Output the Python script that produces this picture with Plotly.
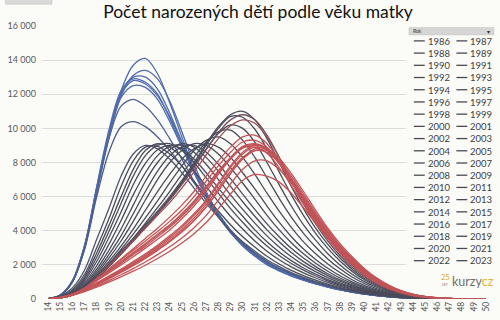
import plotly.graph_objects as go

ages = [14, 15, 16, 17, 18, 19, 20, 21, 22, 23, 24, 25, 26, 27, 28, 29, 30, 31, 32,
        33, 34, 35, 36, 37, 38, 39, 40, 41, 42, 43, 44, 45, 46, 47, 48, 49, 50]

years = [1986, 1987, 1988, 1989, 1990, 1991, 1992, 1993, 1994, 1995, 1996, 1997, 1998,
         1999, 2000, 2001, 2002, 2003, 2004, 2005, 2006, 2007, 2008, 2009, 2010, 2011,
         2012, 2013, 2014, 2015, 2016, 2017, 2018, 2019, 2020, 2021, 2022, 2023]

y1986 = [20, 220, 1050, 3100, 6500, 9700, 12000, 12800, 12600, 11900, 10700, 9200, 7600, 6200, 5000, 4000, 3200, 2600, 2100, 1700, 1400, 1150, 920, 730, 560, 420, 300, 210, 140, 85, 50, 25, 12, 6, 3, 2, 1]
y1987 = [20, 210, 1020, 3050, 6400, 9600, 12100, 13000, 13000, 12300, 10900, 9200, 7500, 6100, 4900, 3950, 3150, 2550, 2050, 1680, 1370, 1120, 900, 710, 550, 410, 295, 205, 135, 82, 48, 25, 12, 6, 3, 2, 1]
y1988 = [20, 200, 1000, 3000, 6300, 9600, 12200, 13700, 14100, 13200, 11500, 9500, 7600, 6100, 4900, 3900, 3100, 2500, 2000, 1650, 1350, 1100, 880, 700, 540, 400, 290, 200, 130, 80, 45, 25, 12, 6, 3, 2, 1]
y1989 = [20, 190, 980, 2950, 6200, 9400, 11900, 13100, 13400, 12900, 11600, 9800, 7900, 6300, 5000, 4000, 3150, 2550, 2050, 1670, 1360, 1100, 880, 700, 540, 400, 290, 200, 130, 80, 45, 25, 12, 6, 3, 2, 1]
y1990 = [25, 230, 1080, 3150, 6600, 9900, 12200, 12900, 12700, 12000, 10600, 9000, 7400, 6000, 4850, 3900, 3150, 2550, 2050, 1680, 1380, 1130, 900, 720, 550, 410, 300, 205, 135, 82, 48, 25, 12, 6, 3, 2, 1]
y1991 = [25, 230, 1060, 3100, 6500, 9700, 11800, 12500, 12400, 11700, 10400, 8900, 7400, 6100, 5000, 4050, 3300, 2700, 2200, 1800, 1480, 1200, 960, 760, 580, 430, 310, 215, 140, 85, 50, 26, 13, 6, 3, 2, 1]
y1992 = [25, 230, 1050, 3050, 6400, 9400, 11300, 11700, 11300, 10500, 9400, 8200, 6900, 5800, 4800, 3900, 3200, 2650, 2150, 1780, 1460, 1190, 950, 750, 570, 420, 305, 210, 138, 84, 48, 25, 12, 6, 3, 2, 1]
y1993 = [25, 230, 1000, 2900, 6000, 8600, 10100, 10400, 10100, 9500, 8700, 7800, 6800, 5800, 4900, 4000, 3300, 2700, 2200, 1800, 1480, 1200, 960, 760, 580, 430, 310, 215, 140, 85, 50, 26, 13, 6, 3, 2, 1]
y1994 = [20, 170, 650, 1700, 3500, 5300, 7200, 8500, 9000, 8800, 8200, 7400, 6500, 5600, 4800, 4000, 3350, 2800, 2300, 1900, 1550, 1270, 1020, 810, 620, 460, 335, 235, 155, 95, 55, 28, 14, 7, 3, 2, 1]
y1995 = [15, 140, 550, 1450, 3000, 4700, 6600, 8100, 8900, 8950, 8500, 7800, 6900, 6000, 5150, 4350, 3650, 3050, 2500, 2050, 1680, 1370, 1100, 870, 670, 500, 360, 250, 165, 100, 58, 30, 15, 7, 3, 2, 1]
y1996 = [15, 120, 480, 1300, 2700, 4300, 6000, 7600, 8700, 9100, 8900, 8300, 7500, 6600, 5700, 4850, 4100, 3400, 2800, 2300, 1880, 1530, 1230, 970, 740, 550, 400, 275, 180, 110, 62, 32, 16, 8, 4, 2, 1]
y1997 = [12, 110, 430, 1180, 2450, 3950, 5600, 7200, 8400, 9000, 9100, 8700, 8000, 7100, 6200, 5300, 4500, 3750, 3100, 2550, 2080, 1690, 1350, 1060, 810, 600, 435, 300, 195, 120, 68, 35, 17, 8, 4, 2, 1]
y1998 = [10, 100, 390, 1070, 2200, 3600, 5100, 6700, 7950, 8750, 9000, 8800, 8200, 7400, 6500, 5650, 4850, 4050, 3350, 2750, 2250, 1820, 1460, 1140, 870, 650, 470, 320, 210, 130, 72, 37, 18, 9, 4, 2, 1]
y1999 = [10, 90, 350, 960, 1950, 3200, 4600, 6100, 7400, 8400, 8950, 9000, 8600, 7900, 7000, 6100, 5250, 4450, 3700, 3050, 2480, 2000, 1600, 1250, 950, 710, 510, 350, 230, 140, 78, 40, 20, 9, 4, 2, 1]
y2000 = [8, 80, 310, 860, 1750, 2850, 4100, 5500, 6900, 8000, 8750, 9100, 8900, 8300, 7500, 6600, 5700, 4850, 4050, 3350, 2720, 2190, 1750, 1370, 1040, 770, 550, 380, 250, 150, 85, 43, 21, 10, 5, 2, 1]
y2001 = [8, 75, 290, 790, 1600, 2600, 3700, 5000, 6300, 7500, 8400, 8900, 9000, 8600, 7900, 7050, 6150, 5250, 4400, 3650, 2970, 2400, 1900, 1480, 1120, 830, 590, 405, 265, 160, 90, 46, 22, 10, 5, 2, 1]
y2002 = [8, 70, 270, 740, 1480, 2400, 3400, 4550, 5800, 7000, 8000, 8700, 9100, 9000, 8500, 7700, 6800, 5850, 4900, 4050, 3300, 2650, 2100, 1630, 1230, 910, 650, 440, 290, 175, 98, 50, 24, 11, 5, 2, 1]
y2003 = [7, 65, 250, 690, 1380, 2200, 3100, 4100, 5200, 6300, 7300, 8200, 8800, 9100, 8900, 8300, 7400, 6450, 5450, 4500, 3650, 2930, 2320, 1800, 1360, 1000, 710, 480, 315, 190, 105, 54, 26, 12, 5, 2, 1]
y2004 = [7, 62, 240, 650, 1300, 2050, 2900, 3800, 4750, 5750, 6800, 7800, 8700, 9300, 9500, 9100, 8300, 7300, 6200, 5150, 4200, 3350, 2650, 2050, 1550, 1130, 800, 540, 350, 210, 115, 58, 28, 13, 6, 3, 1]
y2005 = [7, 60, 230, 620, 1230, 1950, 2750, 3550, 4450, 5350, 6300, 7300, 8300, 9200, 9800, 9900, 9300, 8300, 7100, 5900, 4800, 3850, 3050, 2350, 1770, 1290, 910, 610, 395, 235, 130, 65, 31, 14, 6, 3, 1]
y2006 = [7, 60, 225, 600, 1180, 1870, 2620, 3380, 4200, 5000, 5850, 6800, 7800, 8800, 9700, 10200, 10000, 9200, 8000, 6700, 5450, 4350, 3450, 2650, 2000, 1450, 1020, 690, 445, 265, 145, 72, 34, 15, 7, 3, 1]
y2007 = [8, 65, 240, 630, 1230, 1950, 2700, 3450, 4250, 5050, 5900, 6850, 7900, 9000, 10000, 10700, 10650, 9950, 8800, 7450, 6100, 4900, 3850, 2970, 2230, 1620, 1130, 760, 490, 290, 160, 80, 37, 17, 7, 3, 1]
y2008 = [8, 70, 255, 660, 1280, 2020, 2800, 3550, 4350, 5150, 6000, 6950, 8000, 9100, 10100, 10800, 11000, 10500, 9400, 8000, 6600, 5300, 4150, 3200, 2400, 1750, 1220, 820, 530, 315, 175, 87, 40, 18, 8, 3, 1]
y2009 = [8, 70, 250, 650, 1260, 1980, 2750, 3480, 4250, 5000, 5800, 6700, 7700, 8750, 9750, 10500, 10800, 10500, 9600, 8300, 6900, 5600, 4400, 3400, 2550, 1860, 1300, 870, 560, 335, 185, 92, 42, 19, 8, 3, 1]
y2010 = [8, 70, 245, 640, 1230, 1930, 2680, 3400, 4150, 4900, 5650, 6500, 7450, 8450, 9400, 10150, 10500, 10300, 9500, 8300, 7000, 5750, 4550, 3550, 2680, 1960, 1380, 920, 590, 355, 195, 97, 45, 20, 9, 4, 2]
y2011 = [8, 75, 250, 620, 1150, 1750, 2350, 2950, 3550, 4150, 4800, 5500, 6300, 7200, 8100, 8900, 9500, 9600, 9100, 8100, 6900, 5750, 4600, 3600, 2750, 2050, 1450, 980, 630, 380, 210, 105, 50, 22, 10, 4, 2]
y2012 = [8, 80, 260, 630, 1150, 1720, 2300, 2850, 3400, 3950, 4550, 5200, 6000, 6900, 7800, 8600, 9200, 9300, 8900, 8000, 6900, 5750, 4650, 3650, 2800, 2100, 1500, 1020, 660, 400, 220, 110, 52, 23, 10, 4, 2]
y2013 = [8, 80, 260, 620, 1120, 1660, 2200, 2720, 3250, 3800, 4350, 5000, 5750, 6600, 7500, 8250, 8850, 8900, 8550, 7700, 6650, 5550, 4500, 3550, 2730, 2050, 1470, 1000, 650, 395, 220, 110, 52, 23, 10, 4, 2]
y2014 = [8, 85, 270, 630, 1120, 1650, 2170, 2680, 3200, 3750, 4300, 4950, 5700, 6550, 7500, 8300, 8950, 9100, 8800, 7950, 6900, 5800, 4700, 3700, 2850, 2150, 1550, 1050, 690, 420, 235, 118, 55, 25, 11, 5, 2]
y2015 = [9, 88, 275, 620, 1100, 1600, 2100, 2600, 3100, 3650, 4200, 4850, 5600, 6450, 7400, 8250, 8900, 9050, 8800, 8000, 6950, 5850, 4750, 3750, 2900, 2180, 1580, 1080, 710, 435, 245, 122, 57, 26, 11, 5, 2]
y2016 = [9, 90, 280, 610, 1060, 1530, 2000, 2480, 2980, 3500, 4050, 4700, 5450, 6300, 7300, 8200, 8850, 9050, 8850, 8050, 7000, 5900, 4800, 3800, 2950, 2220, 1600, 1100, 720, 440, 250, 125, 58, 26, 12, 5, 2]
y2017 = [10, 90, 280, 580, 950, 1350, 1750, 2200, 2650, 3150, 3700, 4300, 5000, 5800, 6800, 7800, 8600, 9000, 8800, 8000, 7000, 5900, 4800, 3800, 2950, 2250, 1600, 1100, 700, 420, 240, 130, 65, 32, 16, 8, 5]
y2018 = [10, 90, 280, 570, 920, 1300, 1700, 2130, 2580, 3070, 3600, 4200, 4900, 5700, 6700, 7700, 8500, 8900, 8750, 8000, 7050, 6000, 4900, 3900, 3030, 2300, 1650, 1140, 740, 450, 255, 135, 68, 33, 16, 8, 5]
y2019 = [10, 85, 270, 550, 890, 1260, 1650, 2060, 2500, 2980, 3500, 4080, 4750, 5550, 6500, 7500, 8300, 8700, 8600, 7950, 7050, 6000, 4950, 3950, 3070, 2330, 1680, 1160, 760, 460, 260, 140, 70, 34, 17, 8, 5]
y2020 = [10, 80, 260, 530, 860, 1220, 1600, 2000, 2430, 2900, 3400, 3970, 4620, 5400, 6350, 7350, 8200, 8700, 8700, 8100, 7200, 6150, 5050, 4050, 3150, 2400, 1730, 1200, 790, 480, 270, 145, 72, 35, 17, 8, 5]
y2021 = [9, 78, 250, 510, 830, 1180, 1550, 1950, 2380, 2850, 3350, 3920, 4580, 5380, 6350, 7350, 8250, 8800, 8800, 8250, 7350, 6300, 5200, 4150, 3250, 2480, 1790, 1240, 820, 500, 285, 150, 75, 36, 18, 8, 5]
y2022 = [8, 72, 230, 470, 760, 1080, 1420, 1780, 2170, 2600, 3060, 3580, 4180, 4900, 5800, 6750, 7600, 8100, 8100, 7600, 6800, 5850, 4850, 3900, 3050, 2330, 1690, 1170, 780, 475, 270, 142, 70, 34, 17, 8, 5]
y2023 = [7, 65, 210, 430, 700, 990, 1300, 1630, 1980, 2370, 2800, 3280, 3830, 4480, 5300, 6150, 6950, 7300, 7200, 6850, 6200, 5350, 4450, 3600, 2830, 2170, 1580, 1100, 735, 450, 255, 135, 66, 32, 16, 8, 5]

births = [y1986, y1987, y1988, y1989, y1990, y1991, y1992, y1993, y1994, y1995, y1996,
          y1997, y1998, y1999, y2000, y2001, y2002, y2003, y2004, y2005, y2006, y2007,
          y2008, y2009, y2010, y2011, y2012, y2013, y2014, y2015, y2016, y2017, y2018,
          y2019, y2020, y2021, y2022, y2023]

ytick_vals = [0, 2000, 4000, 6000, 8000, 10000, 12000, 14000, 16000]
ytick_text = ["0", "2 000", "4 000", "6 000", "8 000", "10 000", "12 000", "14 000", "16 000"]

title_text = "Počet narozených dětí podle věku matky"
legend_title = "Rok"

# ---------- layout geometry (pixels) ----------
W, H = 500, 320
L, R, T, B = 37, 8, 26, 19
PW, PH = W - L - R, H - T - B
BG = "#fbfbf8"
FONT = "Lato"


def px(x):
    return (x - L) / PW


def py(y):
    return (H - B - y) / PH


BLUE = (80, 108, 172)
DARK = (74, 76, 92)
RED = (194, 84, 88)
stops = [(1986, BLUE), (1991, BLUE), (1995, DARK), (2008, DARK), (2011, RED), (2023, RED)]


def colour(yr):
    for (y0, c0), (y1, c1) in zip(stops[:-1], stops[1:]):
        if y0 <= yr <= y1:
            t = 0 if y1 == y0 else (yr - y0) / (y1 - y0)
            c = [round(a + (b - a) * t) for a, b in zip(c0, c1)]
            return "rgb(%d,%d,%d)" % tuple(c)
    return "rgb(%d,%d,%d)" % RED


fig = go.Figure()
for yr, vals in zip(years, births):
    fig.add_trace(go.Scatter(
        x=ages, y=vals, mode="lines", name=str(yr),
        line=dict(color=colour(yr), width=1.3, shape="spline", smoothing=0.9),
        showlegend=False, hoverinfo="skip"))

shapes = []
annotations = []

# top-left pivot field button
shapes.append(dict(type="rect", xref="paper", yref="paper",
                   x0=px(0), x1=px(47), y0=py(4), y1=py(-2),
                   fillcolor="#dadada", line=dict(color="#b8b8b8", width=0.5), layer="above"))

# legend panel (opaque)
shapes.append(dict(type="rect", xref="paper", yref="paper",
                   x0=px(405), x1=px(500), y0=py(270), y1=py(26),
                   fillcolor=BG, line=dict(width=0), layer="above"))
# legend header bar
shapes.append(dict(type="rect", xref="paper", yref="paper",
                   x0=px(408), x1=px(494), y0=py(35), y1=py(27.5),
                   fillcolor="#d6d6d6", line=dict(color="#c4c4c4", width=0.5), layer="above"))
annotations.append(dict(xref="paper", yref="paper", x=px(410), y=py(31.3), text=legend_title,
                        showarrow=False, xanchor="left", yanchor="middle",
                        font=dict(family=FONT, size=5, color="#333333")))
annotations.append(dict(xref="paper", yref="paper", x=px(492), y=py(31.3), text="▾",
                        showarrow=False, xanchor="right", yanchor="middle",
                        font=dict(family=FONT, size=6, color="#333333")))

for i, yr in enumerate(years):
    row, col = divmod(i, 2)
    ly = 41 + row * 12.3
    lx = 413 + col * 43
    shapes.append(dict(type="line", xref="paper", yref="paper",
                       x0=px(lx), x1=px(lx + 11), y0=py(ly), y1=py(ly),
                       line=dict(color="#4a4a55", width=1.3), layer="above"))
    annotations.append(dict(xref="paper", yref="paper", x=px(lx + 12), y=py(ly + 0.3),
                            text=str(yr), showarrow=False, xanchor="left", yanchor="middle",
                            font=dict(family=FONT, size=9.5, color="#404040")))

# logo
annotations.append(dict(xref="paper", yref="paper", x=px(438), y=py(279), text="25",
                        showarrow=False, xanchor="left", yanchor="middle",
                        font=dict(family=FONT, size=7.5, color="#d9a92c")))
annotations.append(dict(xref="paper", yref="paper", x=px(439), y=py(287), text="LET",
                        showarrow=False, xanchor="left", yanchor="middle",
                        font=dict(family=FONT, size=3.5, color="#777777")))
annotations.append(dict(xref="paper", yref="paper", x=px(450), y=py(283),
                        text="kurzy<span style='color:#e2b53a'>cz</span>",
                        showarrow=False, xanchor="left", yanchor="middle",
                        font=dict(family=FONT, size=12.5, color="#6e6e6e")))

fig.update_layout(
    width=W, height=H,
    margin=dict(l=L, r=R, t=T, b=B, pad=0),
    paper_bgcolor=BG, plot_bgcolor=BG,
    title=dict(text=title_text, x=258 / W, xanchor="center", xref="container",
               y=1 - 11.5 / H, yanchor="middle", yref="container",
               font=dict(family=FONT, size=17.5, color="#111111")),
    font=dict(family=FONT, color="#595959"),
    xaxis=dict(range=[13.5, 50.5], tickmode="array", tickvals=ages,
               ticktext=[str(a) for a in ages], tickangle=-90,
               tickfont=dict(family=FONT, size=8.5, color="#595959"),
               showgrid=False, zeroline=False, showline=False, ticks="",
               fixedrange=True),
    yaxis=dict(range=[0, 16000], tickmode="array", tickvals=ytick_vals,
               ticktext=ytick_text, tickfont=dict(family=FONT, size=9, color="#595959"),
               showgrid=True, gridcolor="#dcdcdc", gridwidth=1, zeroline=False,
               showline=False, ticks="", ticklabelstandoff=5, fixedrange=True),
    shapes=shapes, annotations=annotations,
    showlegend=False,
)

fig.write_html("out.html")
